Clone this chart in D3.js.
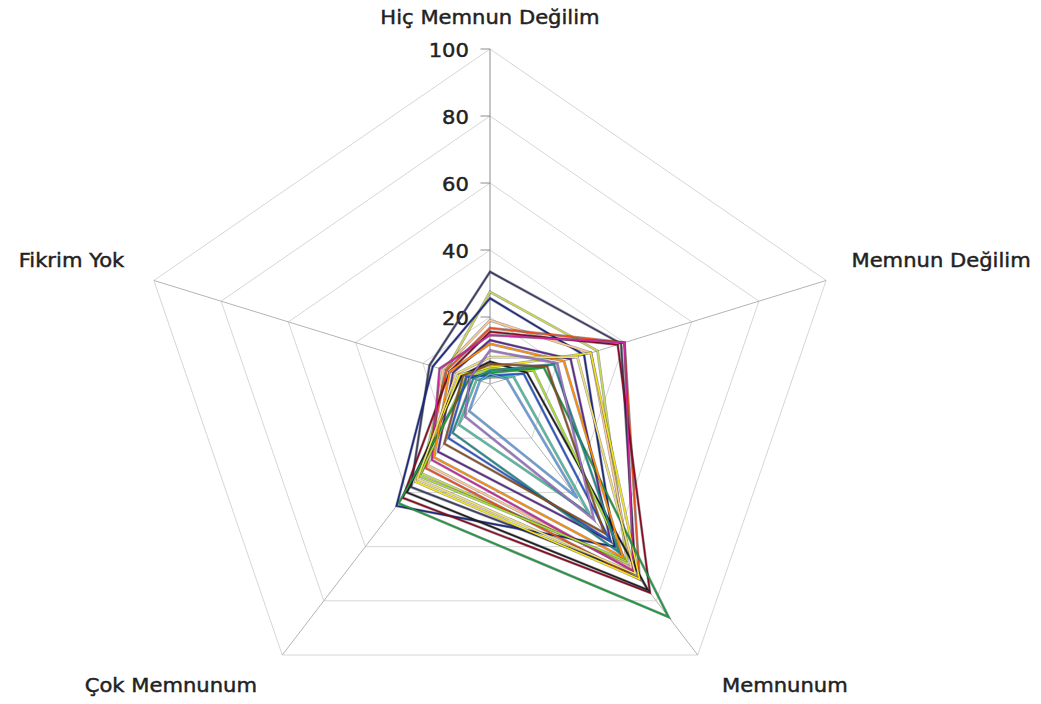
<!DOCTYPE html>
<html>
<head>
<meta charset="utf-8">
<script src="https://cdn.jsdelivr.net/npm/d3@7"></script>
<style>
  body { margin: 0; background: #fff; }
  svg { display: block; }
  text { font-family: "DejaVu Sans", Verdana, sans-serif; fill: #222; stroke: #222; stroke-width: 0.45px; }
</style>
</head>
<body>
<svg id="chart" width="1041" height="704"></svg>
<script>
// Survey answer categories, clockwise from the top
const axes = ["Hiç Memnun Değilim", "Memnun Değilim", "Memnunum", "Çok Memnunum", "Fikrim Yok"];
const tickValues = [20, 40, 60, 80, 100];

// One array per respondent group, values in % for each category above
const series01 = [33.5, 39, 70, 38, 18];
const series02 = [27.5, 32, 66, 33, 13];
const series03 = [25.6, 28, 60, 45, 17];
const series04 = [19, 30, 68, 30, 14];
const series05 = [16.7, 40, 72, 31, 13];
const series06 = [15.6, 38, 77, 42, 12];
const series07 = [14.6, 40, 69, 28, 15];
const series08 = [13.1, 24, 58, 25, 11];
const series09 = [6.7, 11, 76, 40, 8.4];
const series10 = [5, 30, 72, 36, 9];
const series11 = [4.5, 13, 65, 34, 7];
const series12 = [3.3, 16, 86, 44, 6];
const series13 = [2.5, 10, 58, 20, 7];
const series14 = [4, 19, 62, 18, 5];
const series15 = [12, 22, 64, 27, 12];
const series16 = [6, 17, 55, 22, 8];
const series17 = [8, 26, 70, 35, 10];
const series18 = [2, 7, 48, 15, 4];
const series19 = [10, 20, 50, 12, 6];
const series20 = [3, 5, 42, 10, 3];

const seriesColors = [
  "#3c3c64", "#c8d850", "#1c2a80", "#ffc890", "#e85020",
  "#8b0a1e", "#c8289a", "#5a2a8a", "#1e1e1e", "#f2e41c",
  "#a8e030", "#1e9a3c", "#2858c8", "#1e8c8c", "#ff8c00",
  "#8a5020", "#f0e070", "#48c0a0", "#9a70c8", "#60a0e0"
];

const allSeries = [
  series01, series02, series03, series04, series05,
  series06, series07, series08, series09, series10,
  series11, series12, series13, series14, series15,
  series16, series17, series18, series19, series20
];

const R = 335;
const cx = 490, cy = 384;
const r = d3.scaleLinear().domain([0, 100]).range([0, R]);
const angle = d3.scaleLinear().domain([0, axes.length]).range([0, 2 * Math.PI]);

const svg = d3.select("#chart");
// plot area is slightly wider than tall
const g = svg.append("g").attr("transform", `translate(${cx},${cy}) scale(1.055,1)`);

const pt = (i, v) => [r(v) * Math.sin(angle(i)), -r(v) * Math.cos(angle(i))];

// grid pentagons
const gridLine = d3.lineRadial()
  .angle((d, i) => angle(i))
  .radius(d => r(d))
  .curve(d3.curveLinearClosed);

g.append("g").selectAll("path")
  .data(tickValues)
  .join("path")
  .attr("d", t => gridLine(axes.map(() => t)))
  .attr("fill", "none")
  .attr("stroke", "#d6d6d6")
  .attr("stroke-width", 1)
  .attr("vector-effect", "non-scaling-stroke");

// spokes
g.append("g").selectAll("line")
  .data(axes)
  .join("line")
  .attr("x1", 0).attr("y1", 0)
  .attr("x2", (d, i) => pt(i, 100)[0])
  .attr("y2", (d, i) => pt(i, 100)[1])
  .attr("stroke", (d, i) => i === 0 ? "#8c8c8c" : "#b4b4b4")
  .attr("stroke-width", 1)
  .attr("vector-effect", "non-scaling-stroke");

// value axis ticks and labels on the top spoke
const tickG = g.append("g");
tickG.selectAll("line")
  .data(tickValues)
  .join("line")
  .attr("x1", -9).attr("x2", 0)
  .attr("y1", t => -r(t)).attr("y2", t => -r(t))
  .attr("stroke", "#8c8c8c")
  .attr("vector-effect", "non-scaling-stroke");
tickG.selectAll("text")
  .data(tickValues)
  .join("text")
  .attr("x", -20)
  .attr("y", t => -r(t) + 7.5)
  .attr("text-anchor", "end")
  .attr("font-size", 20)
  .text(t => t);

// series polygons
const seriesLine = d3.lineRadial()
  .angle((d, i) => angle(i))
  .radius(d => r(d))
  .curve(d3.curveLinearClosed);

const sG = g.append("g");
allSeries.forEach((vals, k) => {
  sG.append("path")
    .attr("d", seriesLine(vals))
    .attr("fill", "none")
    .attr("stroke", "rgba(20,20,40,0.4)")
    .attr("stroke-width", 2.8)
    .attr("stroke-linejoin", "miter")
    .attr("vector-effect", "non-scaling-stroke");
  sG.append("path")
    .attr("d", seriesLine(vals))
    .attr("fill", "none")
    .attr("stroke", seriesColors[k])
    .attr("stroke-width", 1.6)
    .attr("stroke-linejoin", "miter")
    .attr("vector-effect", "non-scaling-stroke");
});

// category labels around the outside
g.append("g").selectAll("text")
  .data(axes)
  .join("text")
  .attr("font-size", 20)
  .each(function (d, i) {
    const [x, y] = pt(i, 100);
    const sel = d3.select(this);
    if (i === 0) {
      sel.attr("x", x).attr("y", y - 25).attr("text-anchor", "middle");
    } else if (i === 1) {
      sel.attr("x", x + 24).attr("y", y - 13.5).attr("text-anchor", "start");
    } else if (i === 2) {
      sel.attr("x", x + 23).attr("y", y + 37).attr("text-anchor", "start");
    } else if (i === 3) {
      sel.attr("x", x - 24).attr("y", y + 37).attr("text-anchor", "end");
    } else {
      sel.attr("x", x - 28).attr("y", y - 13.5).attr("text-anchor", "end");
    }
  })
  .text(d => d);
</script>
</body>
</html>
